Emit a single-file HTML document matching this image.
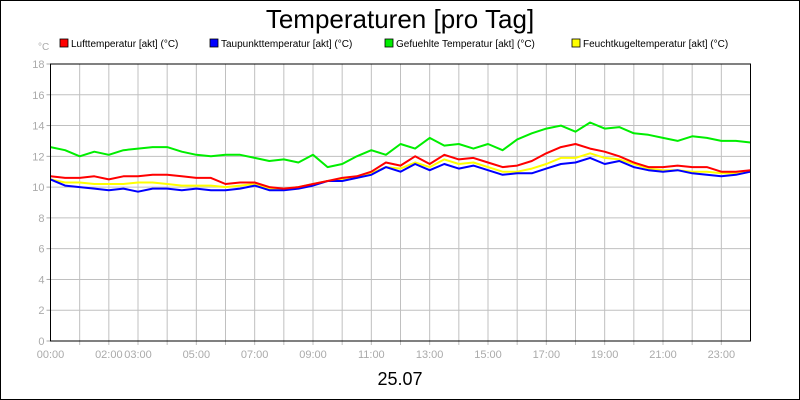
<!DOCTYPE html>
<html><head><meta charset="utf-8"><style>
body{margin:0;background:#fff}
svg{display:block;font-family:"Liberation Sans",sans-serif}
</style></head><body>
<svg width="800" height="400" viewBox="0 0 800 400">
<rect x="0.5" y="0.5" width="799" height="399" fill="#fff" stroke="#000"/>
<text x="400" y="28" text-anchor="middle" font-size="26">Temperaturen [pro Tag]</text>
<g id="legend" font-size="10"></g>
<text x="38" y="50" font-size="10" fill="#aaa">°C</text>
<g id="grid"></g><g id="series"></g><g id="axes"></g>
<text x="400" y="385" text-anchor="middle" font-size="18">25.07</text>
</svg>
<script>
const seriesNames=["Lufttemperatur [akt] (°C)","Taupunkttemperatur [akt] (°C)","Gefuehlte Temperatur [akt] (°C)","Feuchtkugeltemperatur [akt] (°C)"];
const seriesColors=["#f00","#00f","#0e0","#ff0"];
const yTicks=[0,2,4,6,8,10,12,14,16,18];
const xTickLabels=["00:00","","02:00","03:00","","05:00","","07:00","","09:00","","11:00","","13:00","","15:00","","17:00","","19:00","","21:00","","23:00"];
const luft=[10.7,10.6,10.6,10.7,10.5,10.7,10.7,10.8,10.8,10.7,10.6,10.6,10.2,10.3,10.3,10.0,9.9,10.0,10.2,10.4,10.6,10.7,11.0,11.6,11.4,12.0,11.5,12.1,11.8,11.9,11.6,11.3,11.4,11.7,12.2,12.6,12.8,12.5,12.3,12.0,11.6,11.3,11.3,11.4,11.3,11.3,11.0,11.0,11.1];
const taupunkt=[10.5,10.1,10.0,9.9,9.8,9.9,9.7,9.9,9.9,9.8,9.9,9.8,9.8,9.9,10.1,9.8,9.8,9.9,10.1,10.4,10.4,10.6,10.8,11.3,11.0,11.5,11.1,11.5,11.2,11.4,11.1,10.8,10.9,10.9,11.2,11.5,11.6,11.9,11.5,11.7,11.3,11.1,11.0,11.1,10.9,10.8,10.7,10.8,11.0];
const gefuehlt=[12.6,12.4,12.0,12.3,12.1,12.4,12.5,12.6,12.6,12.3,12.1,12.0,12.1,12.1,11.9,11.7,11.8,11.6,12.1,11.3,11.5,12.0,12.4,12.1,12.8,12.5,13.2,12.7,12.8,12.5,12.8,12.4,13.1,13.5,13.8,14.0,13.6,14.2,13.8,13.9,13.5,13.4,13.2,13.0,13.3,13.2,13.0,13.0,12.9];
const feucht=[10.5,10.3,10.3,10.2,10.2,10.2,10.3,10.3,10.2,10.1,10.1,10.1,10.0,10.1,10.2,9.9,9.9,10.0,10.2,10.4,10.5,10.6,10.9,11.3,11.2,11.6,11.3,11.8,11.5,11.6,11.3,11.0,11.0,11.2,11.5,11.9,11.9,12.2,11.9,11.8,11.5,11.2,11.1,11.1,11.0,11.0,10.9,10.9,11.0];
const L=50.5,R=750.5,T=64,B=341;
const ns="http://www.w3.org/2000/svg";
const X=h=>L+(R-L)*h/24, Y=v=>B-(B-T)*v/18;
function mk(tag,attrs,parent){const e=document.createElementNS(ns,tag);for(const k in attrs)e.setAttribute(k,attrs[k]);parent.appendChild(e);return e;}
const grid=document.getElementById('grid'),axes=document.getElementById('axes'),ser=document.getElementById('series'),leg=document.getElementById('legend');
yTicks.forEach(v=>{
 if(v>0&&v<18){const l=mk('line',{x1:L,x2:R,y1:Y(v),y2:Y(v),stroke:'#c0c0c0'},grid);
 
 }
 const tk=mk('line',{x1:L-4,x2:L,y1:Y(v),y2:Y(v),stroke:'#aaa'},axes);
 
 
 const t=mk('text',{x:L-6,y:Y(v)+4,'text-anchor':'end','font-size':11,fill:'#aaa'},axes);t.textContent=v;
 
 
});
for(let h=1;h<24;h++){
 const l=mk('line',{x1:X(h),x2:X(h),y1:T,y2:B+4,stroke:'#c0c0c0'},grid);
 
 
}
xTickLabels.forEach((s,h)=>{if(!s)return;
 const t=mk('text',{x:X(h),y:B+17,'text-anchor':'middle','font-size':11,fill:'#aaa'},axes);t.textContent=s;
 
 
});
const fr=mk('rect',{x:L,y:T,width:R-L,height:B-T,fill:'none',stroke:'#000'},axes);


const data=[gefuehlt,feucht,taupunkt,luft],cols=[seriesColors[2],seriesColors[3],seriesColors[1],seriesColors[0]],names=['series-gefuehlt','series-feucht','series-taupunkt','series-luft'];
data.forEach((arr,i)=>{
 const step=24/(arr.length-1);
 const d=arr.map((v,j)=>(j?'L':'M')+X(j*step).toFixed(1)+' '+Y(v).toFixed(1)).join(' ');
 const p=mk('path',{d:d,fill:'none',stroke:cols[i],'stroke-width':2,'stroke-linejoin':'round'},ser);
 
 
});
const lx=[60,210,385,572];
seriesNames.forEach((n,i)=>{
 const g=mk('g',{},leg);
 
 
 mk('rect',{x:lx[i],y:39,width:8,height:8,fill:seriesColors[i],stroke:'#000','stroke-width':0.8},g);
 const t=mk('text',{x:lx[i]+11,y:47},g);t.textContent=n;
});
</script>
</body></html>
